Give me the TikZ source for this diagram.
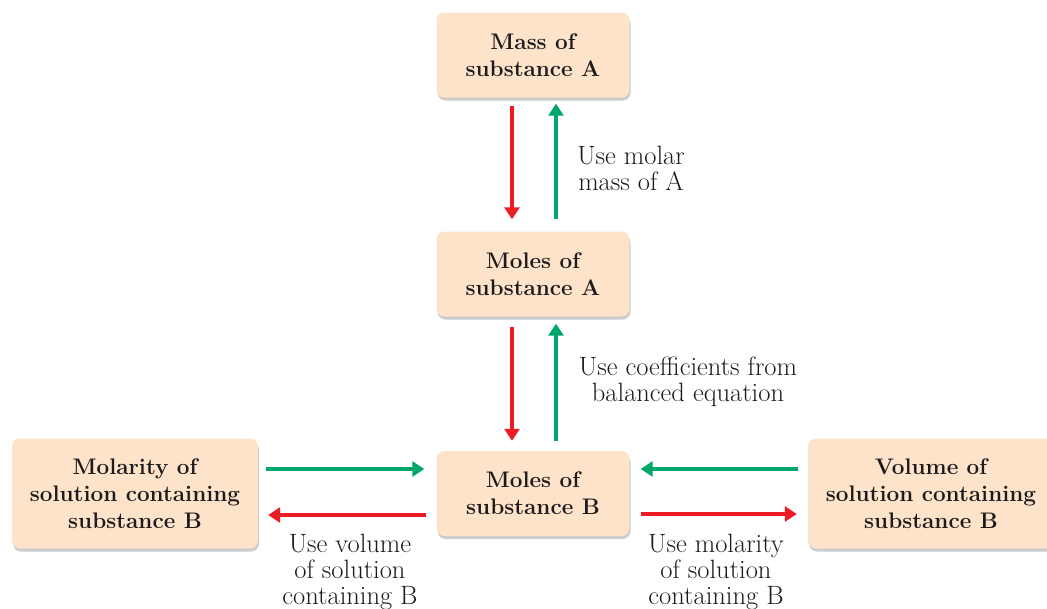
\documentclass[tikz,border=0pt]{standalone}
\usetikzlibrary{arrows.meta,shadows}
\definecolor{boxfill}{RGB}{252,227,202}
\definecolor{redarrow}{RGB}{237,28,36}
\definecolor{greenarrow}{RGB}{0,166,106}
\definecolor{textdark}{RGB}{30,26,27}
\tikzset{
  stepbox/.style={fill=boxfill, rounded corners=8pt, align=center, text=textdark,
    font=\bfseries\fontsize{22.5}{27}\selectfont, minimum width=193pt, minimum height=85pt,
    drop shadow={shadow xshift=1pt, shadow yshift=-3pt, opacity=0.2, fill=black}},
  widebox/.style={stepbox, minimum width=246pt, minimum height=110pt},
  hint/.style={align=center, text=textdark, font=\fontsize{26.5}{26}\selectfont},
  redline/.style={draw=redarrow, line width=4pt, -{Triangle[length=12pt,width=15pt]}},
  greenline/.style={draw=greenarrow, line width=4pt, -{Triangle[length=12pt,width=15pt]}}
}
\begin{document}
\begin{tikzpicture}[x=1pt,y=-1pt]
\useasboundingbox (0,0) rectangle (1047,608);
% boxes
\node[stepbox] (massA) at (533,55) {Mass of\\substance A};
\node[stepbox] (molesA) at (533,274) {Moles of\\substance A};
\node[stepbox] (molesB) at (533,493.5) {Moles of\\substance B};
\node[widebox] (molarity) at (135,493.5) {Molarity of\\solution containing\\substance B};
\node[widebox] (volume) at (931,493.5) {Volume of\\solution containing\\substance B};
% vertical arrows
\draw[redline, shorten <=8pt, shorten >=12pt] ([xshift=-21pt]massA.south) -- ([xshift=-21pt]molesA.north);
\draw[greenline, shorten <=12pt, shorten >=6pt] ([xshift=23pt]molesA.north) -- ([xshift=23pt]massA.south);
\draw[redline, shorten <=10pt, shorten >=10pt] ([xshift=-21pt]molesA.south) -- ([xshift=-21pt]molesB.north);
\draw[greenline, shorten <=10pt, shorten >=7pt] ([xshift=23pt]molesB.north) -- ([xshift=23pt]molesA.south);
% horizontal arrows
\draw[greenline, shorten <=8pt, shorten >=12pt] ([yshift=24.5pt]molarity.east) -- ([yshift=24.5pt]molesB.west);
\draw[redline, shorten <=10pt, shorten >=10pt] ([yshift=-21.5pt]molesB.west) -- ([yshift=-21.5pt]molarity.east);
\draw[greenline, shorten <=10pt, shorten >=11pt] ([yshift=24.5pt]volume.west) -- ([yshift=24.5pt]molesB.east);
\draw[redline, shorten <=11pt, shorten >=11pt] ([yshift=-20.5pt]molesB.east) -- ([yshift=-20.5pt]volume.west);
% labels
\node[hint] (molarmass) at (631,168) {Use molar\\mass of A};
\node[hint] (coeffs) at (688,382) {Use coefficients from\\balanced equation};
\node[hint] (usevolume) at (350,572) {Use volume\\of solution\\containing B};
\node[hint] (usemolarity) at (716,572) {Use molarity\\of solution\\containing B};
\end{tikzpicture}
\end{document}
